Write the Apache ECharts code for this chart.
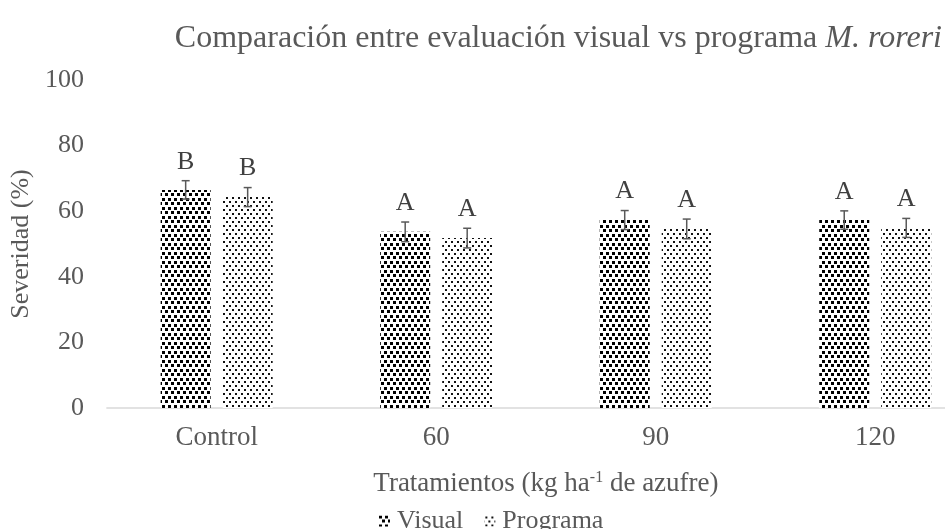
<!DOCTYPE html>
<html><head><meta charset="utf-8">
<script src="https://cdn.jsdelivr.net/npm/echarts@6/dist/echarts.min.js"></script>
<style>html,body{margin:0;padding:0;background:#fff;overflow:hidden}#c{width:985px;height:529px}</style>
</head><body><div id="c"></div>
<script>
const categories = ['Control', '60', '90', '120'];
const visual = [66.5, 53.7, 57.3, 57.3];
const programa = [64.3, 51.8, 54.6, 54.9];
const visualErr = [2.8, 3.0, 2.9, 2.8];
const programaErr = [2.9, 3.0, 3.0, 2.9];
const visualLetters = ['B', 'A', 'A', 'A'];
const programaLetters = ['B', 'A', 'A', 'A'];
const yTicks = [0, 20, 40, 60, 80, 100];

function makePattern(kind) {
  const c = document.createElement('canvas');
  const ctx = c.getContext('2d');
  if (kind === 'visual') {
    c.width = 6; c.height = 9;
    ctx.fillStyle = '#fff'; ctx.fillRect(0, 0, 6, 9);
    ctx.fillStyle = '#000';
    ctx.fillRect(0, 0, 3, 3);
    ctx.fillRect(3, 4, 3, 3);
  } else {
    c.width = 6; c.height = 8;
    ctx.fillStyle = '#fff'; ctx.fillRect(0, 0, 6, 8);
    ctx.fillStyle = '#111';
    ctx.fillRect(1, 1, 2, 2);
    ctx.fillRect(4, 5, 2, 2);
  }
  return c;
}
const visPat = { image: makePattern('visual'), repeat: 'repeat' };
const proPat = { image: makePattern('programa'), repeat: 'repeat' };

const FONT = '"Liberation Serif", "Times New Roman", serif';
const GRAY = '#595959';
const OFFSET = 31;

function errData(vals, errs, letters) {
  return vals.map((v, i) => [i, v, errs[i], letters[i]]);
}
function errRender(off) {
  return function (params, api) {
    const i = api.value(0), v = api.value(1), e = api.value(2);
    const top = api.coord([i, v + e]);
    const bot = api.coord([i, v - e]);
    const x = top[0] + off;
    const cap = 4;
    return {
      type: 'group',
      children: [
        { type: 'line', shape: { x1: x, y1: top[1], x2: x, y2: bot[1] }, style: { stroke: GRAY, lineWidth: 1.5 } },
        { type: 'line', shape: { x1: x - cap, y1: top[1], x2: x + cap, y2: top[1] }, style: { stroke: GRAY, lineWidth: 1.5 } },
        { type: 'line', shape: { x1: x - cap, y1: bot[1], x2: x + cap, y2: bot[1] }, style: { stroke: GRAY, lineWidth: 1.5 } },
        { type: 'text', style: { text: api.value(3), x: x, y: top[1] - 6, textAlign: 'center', textVerticalAlign: 'bottom', font: '26px ' + FONT, fill: '#404040' } }
      ]
    };
  };
}

const chart = echarts.init(document.getElementById('c'), null, { renderer: 'canvas' });
chart.setOption({
  animation: false,
  backgroundColor: '#fff',
  title: {
    text: '{n|Comparación entre evaluación visual vs programa }{i|M. roreri}',
    right: 38, top: 18,
    textStyle: {
      fontWeight: 'normal',
      rich: {
        n: { fontFamily: FONT, fontSize: 32, color: GRAY, fontWeight: 'normal' },
        i: { fontFamily: FONT, fontSize: 32, color: GRAY, fontStyle: 'italic', fontWeight: 'normal' }
      }
    }
  },
  legend: {
    left: 374, top: 503,
    itemWidth: 11, itemHeight: 11, itemGap: 21,
    data: [{ name: 'Visual', icon: 'rect' }, { name: 'Programa', icon: 'rect' }],
    textStyle: { fontFamily: FONT, fontSize: 26, color: GRAY, padding: [0, 0, 0, 2] }
  },
  grid: { left: 105, right: 0, top: 80, bottom: 121, containLabel: false },
  xAxis: {
    type: 'category',
    data: categories,
    axisLine: { lineStyle: { color: '#d9d9d9', width: 1.5 } },
    axisTick: { show: false },
    axisLabel: { fontFamily: FONT, fontSize: 27, color: GRAY, margin: 16 },
    name: '{a|Tratamientos (kg ha}{s|-1}{a| de azufre)}',
    nameLocation: 'middle',
    nameGap: 62,
    nameTextStyle: {
      rich: {
        a: { fontFamily: FONT, fontSize: 27, color: GRAY },
        s: { fontFamily: FONT, fontSize: 16, color: GRAY, verticalAlign: 'top', padding: [0, 0, 10, 0] }
      }
    }
  },
  yAxis: {
    type: 'value', min: 0, max: 100, interval: 20,
    axisLine: { show: false }, axisTick: { show: false },
    splitLine: { show: false },
    axisLabel: {
      fontFamily: FONT, fontSize: 26, color: GRAY, margin: 23,
      formatter: v => (yTicks.indexOf(v) >= 0 ? String(v) : '')
    },
    name: 'Severidad (%)',
    nameLocation: 'middle',
    nameGap: 72,
    nameTextStyle: { fontFamily: FONT, fontSize: 26, color: GRAY }
  },
  series: [
    { name: 'Visual', type: 'bar', data: visual, barWidth: 50, barGap: '24%', itemStyle: { color: visPat }, z: 2 },
    { name: 'Programa', type: 'bar', data: programa, barWidth: 50, barGap: '24%', itemStyle: { color: proPat }, z: 2 },
    { type: 'custom', renderItem: errRender(-OFFSET), data: errData(visual, visualErr, visualLetters), z: 5, silent: true, encode: { x: 0, y: 1 } },
    { type: 'custom', renderItem: errRender(OFFSET), data: errData(programa, programaErr, programaLetters), z: 5, silent: true, encode: { x: 0, y: 1 } }
  ]
});
</script></body></html>
